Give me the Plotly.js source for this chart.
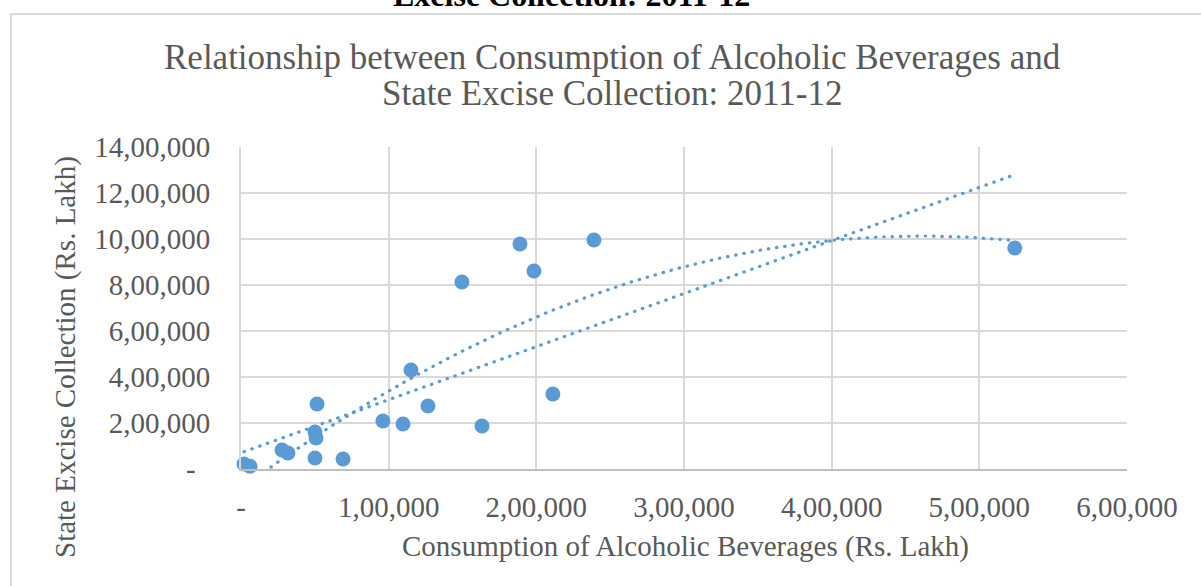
<!DOCTYPE html>
<html><head><meta charset="utf-8">
<script src="https://cdn.plot.ly/plotly-3.0.1.min.js"></script>
<style>
html,body{margin:0;padding:0;background:#fff;}
#chart{width:1201px;height:586px;}
.scatterlayer .trace path.js-line{stroke-linecap:round;}
</style></head><body><div id="chart"></div>
<script>
// Consumption of Alcoholic Beverages (Rs. Lakh) vs State Excise Collection (Rs. Lakh), 2011-12
const consumption = [2000, 6100, 27800, 31800, 50100, 50800, 51500, 50100, 69100, 96100,
  109700, 126600, 163200, 115100, 149600, 188900, 198400, 239000, 211200, 524000];
const exciseCollection = [21700, 12000, 82600, 69600, 160900, 134800, 282600, 47800, 43500, 208700,
  195700, 273900, 187000, 430400, 813000, 978300, 860900, 995700, 326100, 960900];

const xTickVals = [0, 100000, 200000, 300000, 400000, 500000, 600000];
const xTickText = ['-', '1,00,000', '2,00,000', '3,00,000', '4,00,000', '5,00,000', '6,00,000'];
const yTickVals = [0, 200000, 400000, 600000, 800000, 1000000, 1200000, 1400000];
const yTickText = ['-\u00a0\u00a0', '2,00,000', '4,00,000', '6,00,000', '8,00,000', '10,00,000', '12,00,000', '14,00,000'];

// least-squares polynomial fit (Excel-style trendline), x scaled for stability
function polyFit(xs, ys, deg) {
  const S = 1e5, n = deg + 1;
  const A = [], B = [];
  for (let i = 0; i < n; i++) { A.push(new Array(n).fill(0)); B.push(0); }
  xs.forEach((xv, k) => {
    const x = xv / S;
    for (let i = 0; i < n; i++) {
      B[i] += ys[k] * Math.pow(x, i);
      for (let j = 0; j < n; j++) A[i][j] += Math.pow(x, i + j);
    }
  });
  for (let i = 0; i < n; i++) {
    let p = i;
    for (let r = i + 1; r < n; r++) if (Math.abs(A[r][i]) > Math.abs(A[p][i])) p = r;
    [A[i], A[p]] = [A[p], A[i]]; [B[i], B[p]] = [B[p], B[i]];
    for (let r = i + 1; r < n; r++) {
      const f = A[r][i] / A[i][i];
      for (let c = i; c < n; c++) A[r][c] -= f * A[i][c];
      B[r] -= f * B[i];
    }
  }
  const coef = new Array(n).fill(0);
  for (let i = n - 1; i >= 0; i--) {
    let s = B[i];
    for (let c = i + 1; c < n; c++) s -= A[i][c] * coef[c];
    coef[i] = s / A[i][i];
  }
  return xv => coef.reduce((acc, c, i) => acc + c * Math.pow(xv / S, i), 0);
}
const xmin = Math.min(...consumption), xmax = Math.max(...consumption);
const trendX = [];
for (let i = 0; i <= 300; i++) trendX.push(xmin + (xmax - xmin) * i / 300);
const lin = polyFit(consumption, exciseCollection, 1);
const quad = polyFit(consumption, exciseCollection, 2);

const blue = '#5b9bd5';
const serif = 'Liberation Serif, Times New Roman, serif';
const data = [
  {x: consumption, y: exciseCollection, type: 'scatter', mode: 'markers',
   marker: {color: blue, size: 15, line: {width: 0}}, cliponaxis: false, hoverinfo: 'x+y'},
  {x: trendX, y: trendX.map(lin), type: 'scatter', mode: 'lines',
   line: {color: blue, width: 3.2, dash: '0.5px,7.8px'}, hoverinfo: 'skip'},
  {x: trendX, y: trendX.map(quad), type: 'scatter', mode: 'lines',
   line: {color: blue, width: 3.2, dash: '0.5px,7.8px'}, hoverinfo: 'skip'}
];

const L = 241, R = 74, T = 147, B = 117, W = 1201, H = 586;
const pw = W - L - R, ph = H - T - B;
const px = v => (v - L) / pw;
const py = v => (H - B - v) / ph;

const layout = {
  width: W, height: H,
  margin: {l: L, r: R, t: T, b: B},
  paper_bgcolor: '#fff', plot_bgcolor: '#fff',
  showlegend: false,
  font: {family: serif, color: '#595959'},
  xaxis: {range: [0, 600000], tickvals: xTickVals, ticktext: xTickText,
    showgrid: true, gridcolor: '#d9d9d9', gridwidth: 2, zeroline: false,
    showline: true, linecolor: '#bfbfbf', linewidth: 2,
    ticks: 'outside', ticklen: 11, tickcolor: 'rgba(0,0,0,0)',
    tickfont: {family: serif, size: 29, color: '#595959'}, fixedrange: true},
  yaxis: {range: [0, 1400000], tickvals: yTickVals, ticktext: yTickText,
    showgrid: true, gridcolor: '#d9d9d9', gridwidth: 2, zeroline: false,
    showline: true, linecolor: '#d9d9d9', linewidth: 2,
    ticks: 'outside', ticklen: 23, tickcolor: 'rgba(0,0,0,0)',
    tickfont: {family: serif, size: 29, color: '#595959'}, fixedrange: true},
  shapes: [
    {type: 'rect', xref: 'paper', yref: 'paper', x0: px(11), x1: px(1220), y0: py(620), y1: py(14),
     line: {color: '#d9d9d9', width: 2}, fillcolor: 'rgba(0,0,0,0)', layer: 'below'}
  ],
  annotations: [
    {text: '<b>Excise Collection: 2011-12</b>', xref: 'paper', yref: 'paper',
     x: px(571), y: py(-5), xanchor: 'center', yanchor: 'middle', showarrow: false,
     font: {family: serif, size: 32, color: '#000'}},
    {text: 'Relationship between Consumption of Alcoholic Beverages and', xref: 'paper', yref: 'paper',
     x: px(612), y: py(57), xanchor: 'center', yanchor: 'middle', showarrow: false,
     font: {family: serif, size: 35, color: '#595959'}},
    {text: 'State Excise Collection: 2011-12', xref: 'paper', yref: 'paper',
     x: px(612), y: py(94), xanchor: 'center', yanchor: 'middle', showarrow: false,
     font: {family: serif, size: 35, color: '#595959'}},
    {text: 'Consumption of Alcoholic Beverages (Rs. Lakh)', xref: 'paper', yref: 'paper',
     x: px(685), y: py(546), xanchor: 'center', yanchor: 'middle', showarrow: false,
     font: {family: serif, size: 29, color: '#595959'}},
    {text: 'State Excise Collection (Rs. Lakh)', xref: 'paper', yref: 'paper',
     x: px(65), y: py(357), xanchor: 'center', yanchor: 'middle', showarrow: false, textangle: -90,
     font: {family: serif, size: 29, color: '#595959'}}
  ]
};
Plotly.newPlot('chart', data, layout, {displayModeBar: false, staticPlot: true});
</script></body></html>
